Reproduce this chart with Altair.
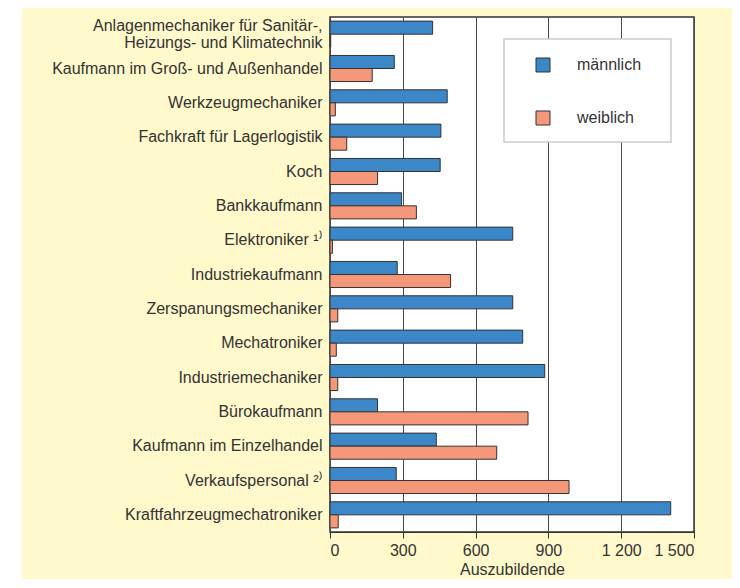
import altair as alt
import pandas as pd

categories = [
    "Anlagenmechaniker für Sanitär-,|Heizungs- und Klimatechnik",
    "Kaufmann im Groß- und Außenhandel",
    "Werkzeugmechaniker",
    "Fachkraft für Lagerlogistik",
    "Koch",
    "Bankkaufmann",
    "Elektroniker ¹⁾",
    "Industriekaufmann",
    "Zerspanungsmechaniker",
    "Mechatroniker",
    "Industriemechaniker",
    "Bürokaufmann",
    "Kaufmann im Einzelhandel",
    "Verkaufspersonal ²⁾",
    "Kraftfahrzeugmechatroniker",
]
maennlich = [423, 265, 483, 457, 454, 295, 753, 277, 753, 794, 885, 196, 438, 273, 1404]
weiblich = [3, 174, 22, 69, 196, 356, 10, 497, 32, 26, 32, 816, 687, 985, 34]
genders = ["männlich", "weiblich"]
colors = ["#3b87c8", "#f5987a"]
x_ticks = [0, 300, 600, 900, 1200, 1500]

rows = []
for c, m, w in zip(categories, maennlich, weiblich):
    rows.append({"Beruf": c, "Geschlecht": genders[0], "Wert": m})
    rows.append({"Beruf": c, "Geschlecht": genders[1], "Wert": w})
df = pd.DataFrame(rows)

FONT = "Liberation Sans"
TXT = "#333333"
W, H = 364, 515

bars = alt.Chart(df).mark_bar(stroke="#333333", strokeWidth=1).encode(
    x=alt.X(
        "Wert:Q",
        title="Auszubildende",
        scale=alt.Scale(domain=[0, 1500], nice=False, zero=True),
        axis=alt.Axis(
            values=x_ticks,
            labelExpr="replace(format(datum.value, ','), ',', ' ')",
            grid=True,
            gridColor="#4a4a4a",
            gridWidth=1,
            domainColor="#333333",
            tickColor="#333333",
            tickSize=6,
            labelFontSize=16,
            labelColor=TXT,
            labelPadding=4,
            titleFontSize=16,
            titleFontWeight="normal",
            titleColor=TXT,
            titlePadding=3,
            labelFont=FONT,
            titleFont=FONT,
        ),
    ),
    y=alt.Y(
        "Beruf:N",
        sort=categories,
        title=None,
        scale=alt.Scale(paddingInner=0.24, paddingOuter=0.12),
        axis=alt.Axis(
            labelExpr="split(datum.label, '|')",
            labelLineHeight=17,
            labelOffset={"condition": {"test": "indexof(datum.value, '|') >= 0", "value": -8}, "value": 0},
            domain=False,
            ticks=False,
            grid=False,
            labelFontSize=16,
            labelColor=TXT,
            labelPadding=8,
            labelFont=FONT,
            labelLimit=400,
        ),
    ),
    yOffset=alt.YOffset("Geschlecht:N", sort=genders, scale=alt.Scale(paddingInner=0, paddingOuter=0)),
    color=alt.Color(
        "Geschlecht:N",
        sort=genders,
        scale=alt.Scale(domain=genders, range=colors),
        legend=alt.Legend(
            title=None,
            orient="none",
            legendX=205,
            legendY=40,
            padding=0,
            symbolType="square",
            symbolSize=196,
            symbolStrokeColor="#333333",
            symbolStrokeWidth=1,
            symbolOffset=0,
            labelOffset=26,
            labelFontSize=16,
            labelColor=TXT,
            labelFont=FONT,
            rowPadding=35,
        ),
    ),
)

strip = alt.Chart(pd.DataFrame({"a": [0]})).mark_rect(color="white").encode(
    x=alt.value(-322), x2=alt.value(-308), y=alt.value(-9), y2=alt.value(580)
)

legend_box = alt.Chart(pd.DataFrame({"a": [0]})).mark_rect(
    fill="white", stroke="#cccccc", strokeWidth=1.5
).encode(
    x=alt.value(174), x2=alt.value(341), y=alt.value(22), y2=alt.value(125)
)

chart = alt.layer(strip, legend_box, bars).properties(
    width=W,
    height=H,
    background="#fff9cc",
    padding={"left": 322, "top": 9, "right": 38, "bottom": 47},
    autosize=alt.AutoSizeParams(type="none"),
).configure_view(
    fill="white",
    stroke="#333333",
    strokeWidth=1.5,
)

chart.save("out.html", embed_options={"renderer": "svg", "actions": False})
